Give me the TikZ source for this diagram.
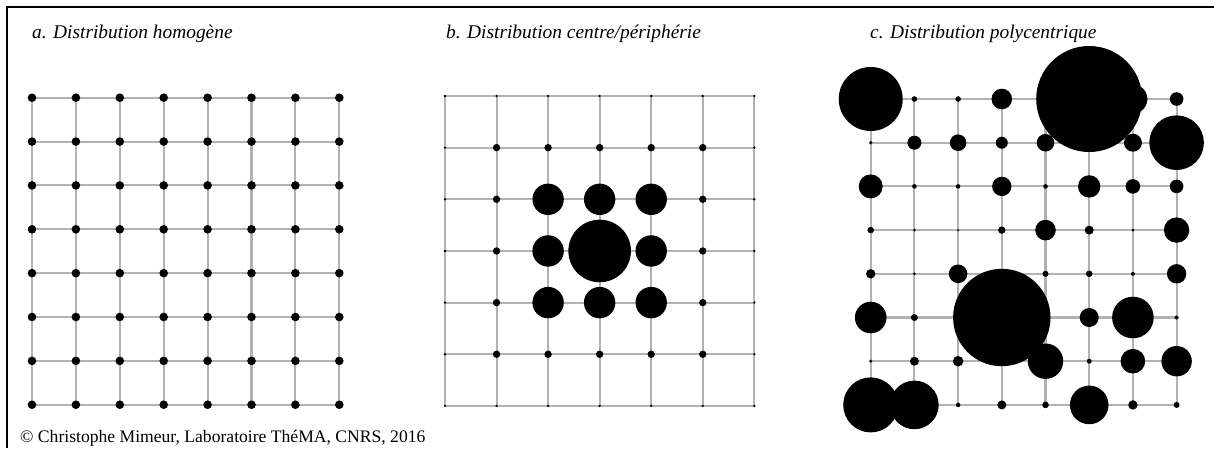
\documentclass[tikz,border=0pt]{standalone}
\usepackage{fontspec}
\setmainfont{Liberation Serif}
\usetikzlibrary{positioning}

\begin{document}
\begin{tikzpicture}[
    x=1pt, y=-1pt,
    frame/.style={draw=black, line width=1.3pt},
    gridline/.style={draw=gray!60, line width=2.1pt},
    site/.style={circle, fill=black, inner sep=0pt, minimum size=#1},
    title/.style={anchor=base west, inner sep=0pt, font=\itshape\fontsize{19.4}{22}\selectfont},
    credit/.style={anchor=base west, inner sep=0pt, font=\fontsize{17.6}{20}\selectfont}
]
\useasboundingbox (0,0) rectangle (1214,448);

% Frame
\draw[frame] (7,448) -- (7,7) -- (1214,7);

% Titles
\node[title] (ta) at (32,38) {a. Distribution homogène};
\node[title] (tb) at (446,38) {b. Distribution centre/périphérie};
\node[title] (tc) at (870,38) {c. Distribution polycentrique};
\node[credit] (credit) at (20,442) {© Christophe Mimeur, Laboratoire ThéMA, CNRS, 2016};

% a. homogeneous grid
\foreach \i in {0,...,7}
  \foreach \j in {0,...,7}
    \coordinate (a-\i-\j) at (32+43.9*\i, 97.7+43.86*\j);
\foreach \k in {0,...,7} {
  \draw[gridline] (a-0-\k) -- (a-7-\k);
  \draw[gridline] (a-\k-0) -- (a-\k-7);
}
\foreach \i in {0,...,7}
  \foreach \j in {0,...,7}
    \node[site=8.6pt] (da-\i-\j) at (a-\i-\j) {};

% b. centre / periphery
\foreach \i in {0,...,6}
  \foreach \j in {0,...,6}
    \coordinate (b-\i-\j) at (445+51.55*\i, 96+51.65*\j);
\foreach \k in {0,...,6} {
  \draw[gridline] (b-0-\k) -- (b-6-\k);
  \draw[gridline] (b-\k-0) -- (b-\k-6);
}
\foreach \row [count=\j from 0] in {
    {1.3,1.3,1.3,1.3,1.3,1.3,1.3},
    {1.3,3.7,3.7,3.7,3.7,3.7,1.3},
    {1.3,3.7,15.7,15.7,15.7,3.7,1.3},
    {1.3,3.7,15.7,31.3,15.7,3.7,1.3},
    {1.3,3.7,15.7,15.7,15.7,3.7,1.3},
    {1.3,3.7,3.7,3.7,3.7,3.7,1.3},
    {1.3,1.3,1.3,1.3,1.3,1.3,1.3}}
  \foreach \r [count=\i from 0] in \row
    \node[site={2*\r pt}] (db-\i-\j) at (b-\i-\j) {};

% c. polycentric
\foreach \i in {0,...,7}
  \foreach \j in {0,...,7}
    \coordinate (c-\i-\j) at (870.7+43.7*\i, 99+43.7*\j);
\foreach \k in {0,...,7} {
  \draw[gridline] (c-0-\k) -- (c-7-\k);
  \draw[gridline] (c-\k-0) -- (c-\k-7);
}
\foreach \row [count=\j from 0] in {
    {32,2.8,2.8,10.3,3,53,14.5,6.8},
    {1.8,7,8.3,6,8.8,3,9,27.3},
    {12,2.3,2.3,9.7,2.3,11.2,7.3,6.8},
    {3.3,1.5,1.1,3.7,10.3,4.5,1.5,12.7},
    {4.7,1.5,9.3,3,3,3.3,2,9.7},
    {15.8,3.5,3,48.7,3,9.5,20.8,2},
    {1.7,4.5,5.3,3,17.7,2.5,12.3,15.2},
    {27.5,24.3,2.3,4.5,3.3,19.3,4.7,3}}
  \foreach \r [count=\i from 0] in \row
    \node[site={2*\r pt}] (dc-\i-\j) at (c-\i-\j) {};

\end{tikzpicture}
\end{document}
